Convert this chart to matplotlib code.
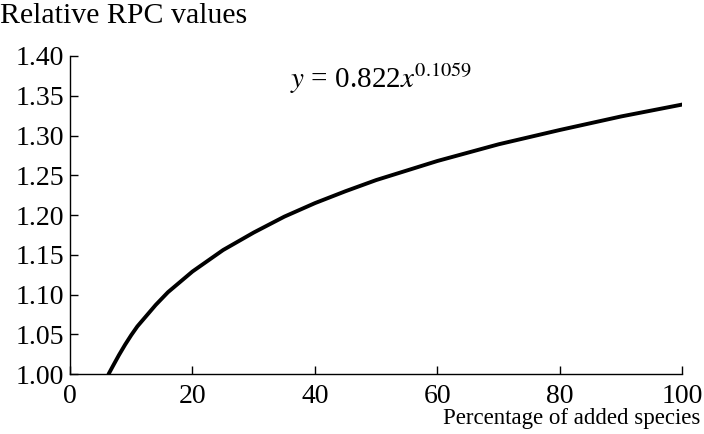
import matplotlib
matplotlib.use("Agg")
import matplotlib.pyplot as plt

# values
pct_added = [6.3, 7, 8, 9, 10, 11, 12, 14, 15, 16, 18, 20, 25, 30, 35, 40, 45, 50,
             60, 70, 80, 90, 100]
rpc_values = [1.000, 1.010, 1.024, 1.037, 1.049, 1.060, 1.069, 1.087, 1.095, 1.103,
              1.116, 1.129, 1.156, 1.178, 1.198, 1.215, 1.230, 1.244,
              1.268, 1.289, 1.307, 1.324, 1.339]

x_ticks = [0, 20, 40, 60, 80, 100]
y_ticks = [1.00, 1.05, 1.10, 1.15, 1.20, 1.25, 1.30, 1.35, 1.40]

plt.rcParams['font.family'] = ['Liberation Serif', 'DejaVu Serif']
plt.rcParams['mathtext.fontset'] = 'stix'

fig = plt.figure(figsize=(7.04, 4.34), dpi=100)
ax = fig.add_axes([0.0994, 0.138, 0.870, 0.733])

ax.plot(pct_added, rpc_values, color='black', linewidth=2.8, solid_capstyle='round')

ax.set_xlim(0, 100)
ax.set_ylim(1.00, 1.40)
ax.set_xticks(x_ticks)
ax.set_yticks(y_ticks)
ax.set_xticklabels([str(t) for t in x_ticks])
ax.set_yticklabels(['%.2f' % t for t in y_ticks])

ax.spines['top'].set_visible(False)
ax.spines['right'].set_visible(False)
for s in ['left', 'bottom']:
    ax.spines[s].set_linewidth(1.0)

ax.tick_params(axis='both', direction='in', length=6, width=1.0, colors='black')
ax.tick_params(axis='y', pad=4, labelsize=20)
ax.tick_params(axis='x', pad=7, labelsize=20)

fig.text(0.0, 0.962, "Relative RPC values", fontsize=21.5, ha='left', va='center')
fig.text(0.995, 0.023, "Percentage of added species", fontsize=16.5, ha='right', va='baseline')
ax.text(0.508, 0.90, r"$y$ = 0.822$x^{0.1059}$", transform=ax.transAxes,
        fontsize=21, ha='center', va='baseline')

fig.savefig("out.png", dpi=100)
